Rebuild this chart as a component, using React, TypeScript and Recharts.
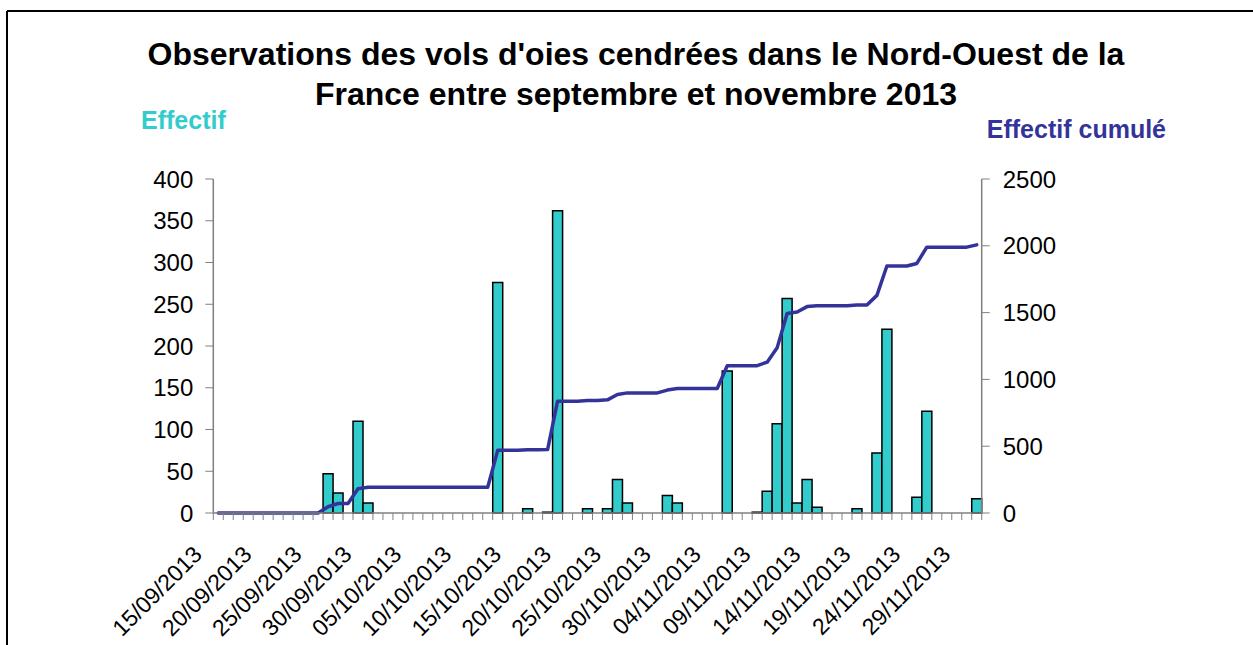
import { ComposedChart, Bar, Line, XAxis, YAxis } from "recharts"

// jours du 15/09/2013 au 30/11/2013
const dates = [
    "15/09/2013", "16/09/2013", "17/09/2013", "18/09/2013", "19/09/2013", "20/09/2013", "21/09/2013", "22/09/2013",
    "23/09/2013", "24/09/2013", "25/09/2013", "26/09/2013", "27/09/2013", "28/09/2013", "29/09/2013", "30/09/2013",
    "01/10/2013", "02/10/2013", "03/10/2013", "04/10/2013", "05/10/2013", "06/10/2013", "07/10/2013", "08/10/2013",
    "09/10/2013", "10/10/2013", "11/10/2013", "12/10/2013", "13/10/2013", "14/10/2013", "15/10/2013", "16/10/2013",
    "17/10/2013", "18/10/2013", "19/10/2013", "20/10/2013", "21/10/2013", "22/10/2013", "23/10/2013", "24/10/2013",
    "25/10/2013", "26/10/2013", "27/10/2013", "28/10/2013", "29/10/2013", "30/10/2013", "31/10/2013",
    "01/11/2013", "02/11/2013", "03/11/2013", "04/11/2013", "05/11/2013", "06/11/2013", "07/11/2013", "08/11/2013",
    "09/11/2013", "10/11/2013", "11/11/2013", "12/11/2013", "13/11/2013", "14/11/2013", "15/11/2013", "16/11/2013",
    "17/11/2013", "18/11/2013", "19/11/2013", "20/11/2013", "21/11/2013", "22/11/2013", "23/11/2013", "24/11/2013",
    "25/11/2013", "26/11/2013", "27/11/2013", "28/11/2013", "29/11/2013", "30/11/2013",
]

const effectif = [
    // septembre
    0, 0, 0, 0, 0, 0, 0, 0, 0, 0, 0, 47, 24, 0, 110, 12,
    // octobre
    0, 0, 0, 0, 0, 0, 0, 0, 0, 0, 0, 0, 276, 0, 0, 5, 0, 1, 362, 0, 0, 5, 0, 5, 40, 12, 0, 0, 0, 21, 12,
    // novembre
    0, 0, 0, 0, 170, 0, 0, 1, 26, 107, 257, 12, 40, 7, 0, 0, 0, 5, 0, 72, 220, 0, 0, 19, 122, 0, 0, 0, 0, 17,
]

const effectifCumule = [
    0, 0, 0, 0, 0, 0, 0, 0, 0, 0, 0, 47, 71, 71, 181, 193,
    193, 193, 193, 193, 193, 193, 193, 193, 193, 193, 193, 193, 469, 469, 469, 474, 474, 475, 837, 837, 837, 842,
    842, 847, 887, 899, 899, 899, 899, 920, 932,
    932, 932, 932, 932, 1102, 1102, 1102, 1103, 1129, 1236, 1493, 1505, 1545, 1552, 1552, 1552, 1552, 1557, 1557,
    1629, 1849, 1849, 1849, 1868, 1990, 1990, 1990, 1990, 1990, 2007,
]

const leftTicks = [0, 50, 100, 150, 200, 250, 300, 350, 400]
const rightTicks = [0, 500, 1000, 1500, 2000, 2500]

const data = dates.map((d, i) => ({ date: d, effectif: effectif[i], cumule: effectifCumule[i] }))

const W = 1253
const H = 645
const PLOT_LEFT = 213.3
const PLOT_RIGHT = 981.7
const PLOT_TOP = 179
const PLOT_BOTTOM = 513
const FONT = 'Arial, "Liberation Sans", sans-serif'
const band = (PLOT_RIGHT - PLOT_LEFT) / dates.length

const DateTick = (props: any) => {
    const { x, y, payload } = props
    const idx = payload?.index ?? props.index ?? 0
    const last = idx === dates.length - 1
    const tx = x - 15
    const ty = y + 43
    return (
        <g>
            <line x1={x - band / 2} x2={x - band / 2} y1={y} y2={y + 7} stroke="#808080" strokeWidth={1} />
            {last && <line x1={x + band / 2} x2={x + band / 2} y1={y} y2={y + 7} stroke="#808080" strokeWidth={1} />}
            {idx % 5 === 0 && (
                <text
                    x={tx}
                    y={ty}
                    textAnchor="end"
                    fontSize={23}
                    fontFamily={FONT}
                    fill="#000"
                    transform={`rotate(-45 ${tx} ${ty})`}
                >
                    {payload.value}
                </text>
            )}
        </g>
    )
}

export default function App() {
    return (
        <div style={{ position: "absolute", left: 0, top: 0, width: W, height: H, background: "#fff", fontFamily: FONT }}>
            <ComposedChart
                width={W}
                height={H}
                data={data}
                barCategoryGap={0}
                barGap={0}
                margin={{ top: PLOT_TOP, right: 0, bottom: 0, left: 0 }}
                style={{ position: "absolute", left: 0, top: 0 }}
            >
                <XAxis
                    dataKey="date"
                    interval={0}
                    height={H - PLOT_BOTTOM}
                    tickSize={0}
                    tickMargin={0}
                    tickLine={false}
                    axisLine={{ stroke: "#808080", strokeWidth: 1.5 }}
                    tick={<DateTick />}
                />
                <YAxis
                    yAxisId="left"
                    domain={[0, 400]}
                    ticks={leftTicks}
                    width={PLOT_LEFT}
                    tickSize={8}
                    tickMargin={12}
                    axisLine={{ stroke: "#808080", strokeWidth: 1.5 }}
                    tickLine={{ stroke: "#808080" }}
                    tick={{ fill: "#000", fontSize: 24, fontFamily: FONT }}
                />
                <YAxis
                    yAxisId="right"
                    orientation="right"
                    domain={[0, 2500]}
                    ticks={rightTicks}
                    width={W - PLOT_RIGHT}
                    tickSize={8}
                    tickMargin={13}
                    axisLine={{ stroke: "#808080", strokeWidth: 1.5 }}
                    tickLine={{ stroke: "#808080" }}
                    tick={{ fill: "#000", fontSize: 24, fontFamily: FONT, textAnchor: "start" }}
                />
                <Bar
                    yAxisId="left"
                    dataKey="effectif"
                    fill="#33CCCC"
                    stroke="#000"
                    strokeWidth={1.5}
                    isAnimationActive={false}
                />
                <Line
                    yAxisId="right"
                    dataKey="cumule"
                    type="linear"
                    stroke="#333399"
                    strokeWidth={3.5}
                    strokeLinejoin="round"
                    strokeLinecap="round"
                    dot={false}
                    activeDot={false}
                    isAnimationActive={false}
                />
            </ComposedChart>
            <svg width={W} height={H} style={{ position: "absolute", left: 0, top: 0, pointerEvents: "none" }}>
                <line x1={7} y1={11} x2={W} y2={11} stroke="#000" strokeWidth={2} />
                <line x1={7} y1={11} x2={7} y2={H} stroke="#000" strokeWidth={2} />
                <text x={636} y={65} textAnchor="middle" fontSize={32} fontWeight="bold" fontFamily={FONT} fill="#000">
                    Observations des vols d'oies cendrées dans le Nord-Ouest de la
                </text>
                <text x={636} y={105} textAnchor="middle" fontSize={32} fontWeight="bold" fontFamily={FONT} fill="#000">
                    France entre septembre et novembre 2013
                </text>
                <text x={141} y={129} fontSize={25} fontWeight="bold" fontFamily={FONT} fill="#33CCCC">
                    Effectif
                </text>
                <text x={1166} y={138} textAnchor="end" fontSize={25} fontWeight="bold" fontFamily={FONT} fill="#333399">
                    Effectif cumulé
                </text>
            </svg>
        </div>
    )
}
